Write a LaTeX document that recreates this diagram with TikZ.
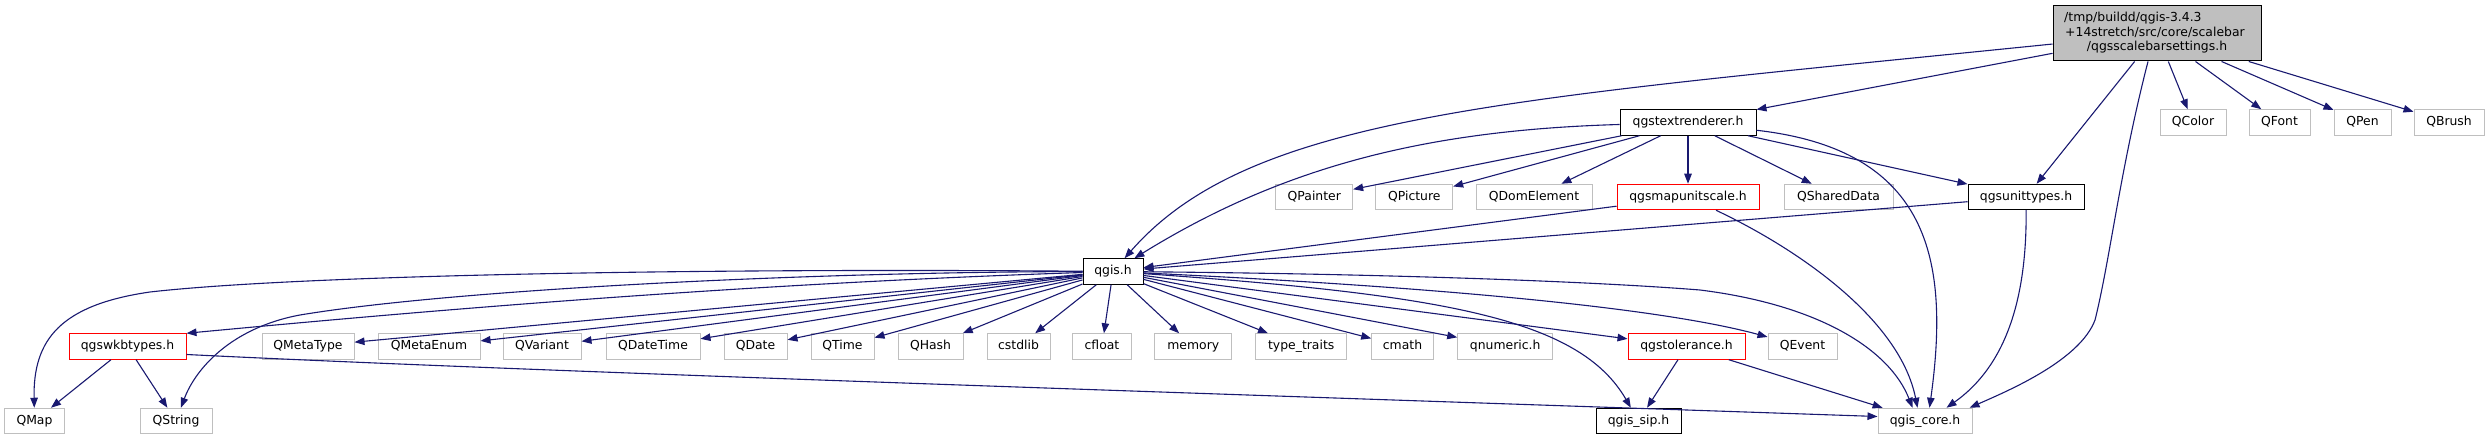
\documentclass[tikz,border=0pt]{standalone}
\usepackage{fontspec}
\setmainfont{DejaVu Sans}
\usetikzlibrary{arrows.meta,calc}
\definecolor{edgecol}{HTML}{191970}
\definecolor{graybd}{HTML}{BFBFBF}
\definecolor{rootfill}{HTML}{BFBFBF}
\begin{document}
\begin{tikzpicture}[x=1bp,y=-1bp,
  basebox/.style={draw, rectangle, inner sep=0pt, minimum height=25.5bp, text height=9bp, text depth=2.5bp, font=\fontsize{12.4bp}{15bp}\selectfont, line width=1bp, fill=white},
  extbox/.style={basebox, draw=graybd},
  darkbox/.style={basebox, draw=black},
  redbox/.style={basebox, draw=red},
  rtext/.style={inner sep=0pt, font=\fontsize{12.4bp}{15bp}\selectfont},
  dep/.style={draw=edgecol, line width=1.1bp, -{Triangle[length=10bp,width=7.5bp]}},
]
\useasboundingbox (0,0) rectangle (2489,440);
% root
\node[draw=black, line width=1bp, fill=rootfill, minimum width=208bp, minimum height=55bp, inner sep=0pt] (root) at (2157,33.5) {};
\node[rtext, anchor=base west] (rl1) at (2064,22) {/tmp/buildd/qgis-3.4.3};
\node[rtext, anchor=base west] (rl2) at (2065,36.5) {+14stretch/src/core/scalebar};
\node[rtext, anchor=base] (rl3) at (2157,51) {/qgsscalebarsettings.h};
% row 1
\node[darkbox, minimum width=136bp] (txt) at (1688,122.5) {qgstextrenderer.h};
\node[extbox, minimum width=66bp] (qcolor) at (2193,122.5) {QColor};
\node[extbox, minimum width=61bp] (qfont) at (2279.5,122.5) {QFont};
\node[extbox, minimum width=57bp] (qpen) at (2362.5,122.5) {QPen};
\node[extbox, minimum width=70bp] (qbrush) at (2449,122.5) {QBrush};
% row 2
\node[extbox, minimum width=76.7bp] (qpainter) at (1314.3,197) {QPainter};
\node[extbox, minimum width=76.7bp] (qpicture) at (1414.3,197) {QPicture};
\node[extbox, minimum width=116bp] (qdom) at (1534,197) {QDomElement};
\node[redbox, minimum width=142bp] (mapunit) at (1688,197) {qgsmapunitscale.h};
\node[extbox, minimum width=109bp] (qshared) at (1838.5,197) {QSharedData};
\node[darkbox, minimum width=116bp] (unittypes) at (2026,197) {qgsunittypes.h};
% row 3
\node[darkbox, minimum width=60bp] (qgis) at (1113,271.5) {qgis.h};
% row 4
\node[redbox, minimum width=117bp] (wkb) at (127.5,346.5) {qgswkbtypes.h};
\node[extbox, minimum width=92bp] (qmetatype) at (308,346.5) {QMetaType};
\node[extbox, minimum width=102bp] (qmetaenum) at (429,346.5) {QMetaEnum};
\node[extbox, minimum width=78bp] (qvariant) at (542,346.5) {QVariant};
\node[extbox, minimum width=94bp] (qdatetime) at (653,346.5) {QDateTime};
\node[extbox, minimum width=63bp] (qdate) at (755.5,346.5) {QDate};
\node[extbox, minimum width=63bp] (qtime) at (842.5,346.5) {QTime};
\node[extbox, minimum width=65bp] (qhash) at (930.5,346.5) {QHash};
\node[extbox, minimum width=63bp] (cstdlib) at (1018.5,346.5) {cstdlib};
\node[extbox, minimum width=58.5bp] (cfloat) at (1102,346.5) {cfloat};
\node[extbox, minimum width=76.7bp] (memory) at (1193.3,346.5) {memory};
\node[extbox, minimum width=91bp] (typetraits) at (1301.2,346.5) {type\_traits};
\node[extbox, minimum width=61.6bp] (cmath) at (1402.5,346.5) {cmath};
\node[extbox, minimum width=95bp] (qnumeric) at (1505.2,346.5) {qnumeric.h};
\node[redbox, minimum width=117bp] (tolerance) at (1686.5,346.5) {qgstolerance.h};
\node[extbox, minimum width=69bp] (qevent) at (1802.5,346.5) {QEvent};
% row 5
\node[extbox, minimum width=59bp] (qmap) at (34.5,421) {QMap};
\node[extbox, minimum width=72bp] (qstring) at (176,421) {QString};
\node[darkbox, minimum width=85bp] (qgissip) at (1638.5,421) {qgis\_sip.h};
\node[extbox, minimum width=94bp] (qgiscore) at (1925,421) {qgis\_core.h};

% edges from root
\draw[dep] (root) .. controls (1500,100) and (1250,115) .. (qgis);
\draw[dep] (root) -- (txt);
\draw[dep] (root) -- (unittypes);
\draw[dep] ($(root.south)+(-9,0)$) .. controls (2120,170) and (2110,260) .. (2095,320) .. controls (2080,360) and (2010,390) .. ($(qgiscore.north west)+(92,0)$);
\draw[dep] (root) -- (qcolor);
\draw[dep] (root) -- (qfont);
\draw[dep] (root) -- (qpen);
\draw[dep] (root) -- (qbrush);
% edges from qgstextrenderer.h
\draw[dep] (txt) .. controls (1430,130) and (1285,165) .. (qgis);
\draw[dep] (txt) -- (qpainter);
\draw[dep] (txt) -- (qpicture);
\draw[dep] (txt) -- (qdom);
\draw[dep] (txt) -- (mapunit);
\draw[dep] (txt) -- (qshared);
\draw[dep] (txt) -- (unittypes);
\draw[dep] (txt) .. controls (1930,150) and (1950,260) .. ($(qgiscore.north west)+(52,0)$);
% edges from qgsmapunitscale.h / qgsunittypes.h
\draw[dep] (mapunit) -- (qgis);
\draw[dep] (mapunit) .. controls (1800,250) and (1900,320) .. ($(qgiscore.north west)+(40,0)$);
\draw[dep] (unittypes) -- (qgis);
\draw[dep] (unittypes) .. controls (2027,310) and (2000,370) .. ($(qgiscore.north west)+(69,0)$);
% edges from qgis.h
\draw[dep] (qgis) .. controls (700,268) and (300,275) .. (150,292) .. controls (60,305) and (33,340) .. (qmap);
\draw[dep] (qgis) .. controls (800,272) and (450,290) .. (300,315) .. controls (230,328) and (195,370) .. (qstring);
\draw[dep] (qgis) .. controls (700,285) and (350,318) .. (wkb.north east);
\draw[dep] (qgis) -- (qmetatype);
\draw[dep] (qgis) -- (qmetaenum);
\draw[dep] (qgis) -- (qvariant);
\draw[dep] (qgis) -- (qdatetime);
\draw[dep] (qgis) -- (qdate);
\draw[dep] (qgis) -- (qtime);
\draw[dep] (qgis) -- (qhash);
\draw[dep] (qgis) -- (cstdlib);
\draw[dep] (qgis) -- (cfloat);
\draw[dep] (qgis) -- (memory);
\draw[dep] (qgis) -- (typetraits);
\draw[dep] (qgis) -- (cmath);
\draw[dep] (qgis) -- (qnumeric);
\draw[dep] (qgis) -- (tolerance);
\draw[dep] (qgis) .. controls (1400,285) and (1650,305) .. (qevent);
\draw[dep] (qgis) .. controls (1450,295) and (1580,320) .. (qgissip);
\draw[dep] (qgis) .. controls (1400,274) and (1600,282) .. (1700,290) .. controls (1820,305) and (1890,350) .. ($(qgiscore.north west)+(35,0)$);
% edges from qgswkbtypes.h
\draw[dep] (wkb) -- (qmap);
\draw[dep] (wkb) -- (qstring);
\draw[dep] ($(wkb.east)+(0,8)$) .. controls (500,370) and (1100,390) .. ($(qgiscore.west)+(0,-4.5)$);
% edges from qgstolerance.h
\draw[dep] (tolerance) -- (qgissip);
\draw[dep] (tolerance) -- (qgiscore);
\end{tikzpicture}
\end{document}
